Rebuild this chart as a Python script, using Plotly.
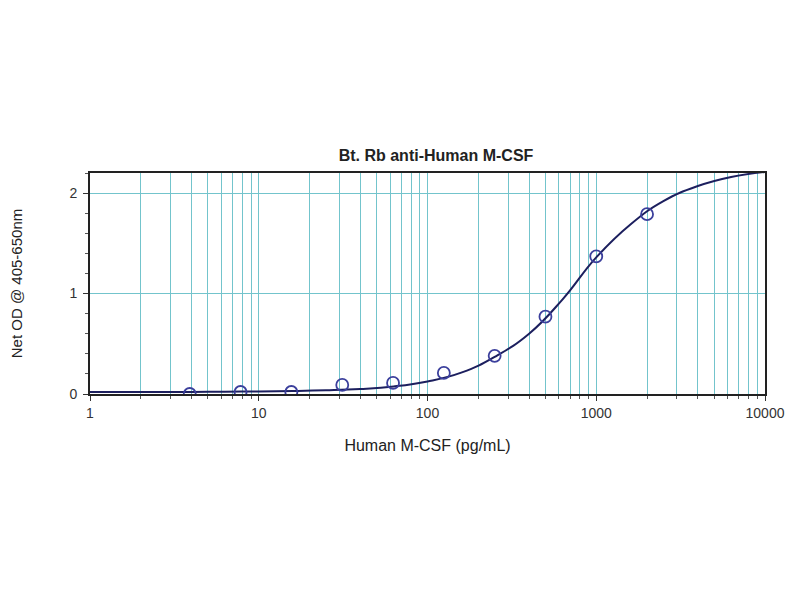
import plotly.graph_objects as go

# Standard points
conc = [3.9, 7.8, 15.6, 31.25, 62.5, 125, 250, 500, 1000, 2000]
od = [0.00, 0.02, 0.02, 0.09, 0.11, 0.21, 0.38, 0.77, 1.37, 1.79]

# Fitted curve
curve_x = [1, 1.6, 2.5, 4, 6.3, 10, 16, 25, 40, 63, 100, 160, 250, 400, 630,
           1000, 1600, 2500, 4000, 6300, 10000]
curve_y = [0.02, 0.02, 0.02, 0.021, 0.023, 0.026, 0.03, 0.037, 0.05, 0.075, 0.125,
           0.215, 0.37, 0.6, 0.94, 1.36, 1.69, 1.92, 2.07, 2.16, 2.21]

x_ticks = [1, 10, 100, 1000, 10000]
x_tick_text = ["1", "10", "100", "1000", "10000"]
x_minor = [m * d for d in [1, 10, 100, 1000] for m in range(2, 10)] + [10, 100, 1000]
y_ticks = [0, 1, 2]
y_minor = [0.2, 0.4, 0.6, 0.8, 1.2, 1.4, 1.6, 1.8, 2.2]

grid = "rgb(115,196,204)"
font = "Arial, Liberation Sans, sans-serif"

fig = go.Figure()
fig.add_trace(go.Scatter(x=curve_x, y=curve_y, mode="lines",
                         line=dict(color="#1c1f5e", width=2, shape="spline", smoothing=1.3),
                         hoverinfo="skip", showlegend=False))
fig.add_trace(go.Scatter(x=conc, y=od, mode="markers",
                         marker=dict(symbol="circle-open", size=12,
                                     color="#3b3f9c", line=dict(width=1.8, color="#3b3f9c")),
                         showlegend=False))

fig.update_layout(
    width=800, height=600,
    paper_bgcolor="white", plot_bgcolor="white",
    margin=dict(l=82, r=43, t=165, b=214),
    title=dict(text="<b>Bt. Rb anti-Human M-CSF</b>", x=0.535, xanchor="center",
               y=1 - 147 / 600, yanchor="middle",
               font=dict(family=font, size=16, color="#222")),
    font=dict(family=font, size=14, color="#333"),
)
fig.update_xaxes(
    type="log", range=[0, 4], automargin=False,
    tickmode="array", tickvals=x_ticks, ticktext=x_tick_text,
    ticks="outside", ticklen=5, tickcolor="#333",
    showgrid=False,
    minor=dict(tickmode="array", tickvals=x_minor, showgrid=True, gridcolor=grid,
               gridwidth=1.3, ticks="outside", ticklen=3, tickcolor="#555"),
    showline=True, linecolor="#222", linewidth=2, mirror=True,
    title=dict(text="Human M-CSF (pg/mL)", font=dict(family=font, size=16, color="#222"),
               standoff=20),
    tickfont=dict(family=font, size=14, color="#333"), zeroline=False,
)
fig.update_yaxes(
    range=[0, 2.2], automargin=False,
    tickmode="array", tickvals=y_ticks,
    ticks="outside", ticklen=5, tickcolor="#333", ticklabelstandoff=3,
    showgrid=True, gridcolor=grid, gridwidth=1.3,
    minor=dict(tickmode="array", tickvals=y_minor, ticks="outside", ticklen=3,
               tickcolor="#555", showgrid=False),
    showline=True, linecolor="#222", linewidth=2, mirror=True, zeroline=False,
    title=dict(text="Net OD @ 405-650nm", font=dict(family=font, size=15, color="#222"),
               standoff=50),
    tickfont=dict(family=font, size=14, color="#333"),
)

fig.write_html("out.html")
